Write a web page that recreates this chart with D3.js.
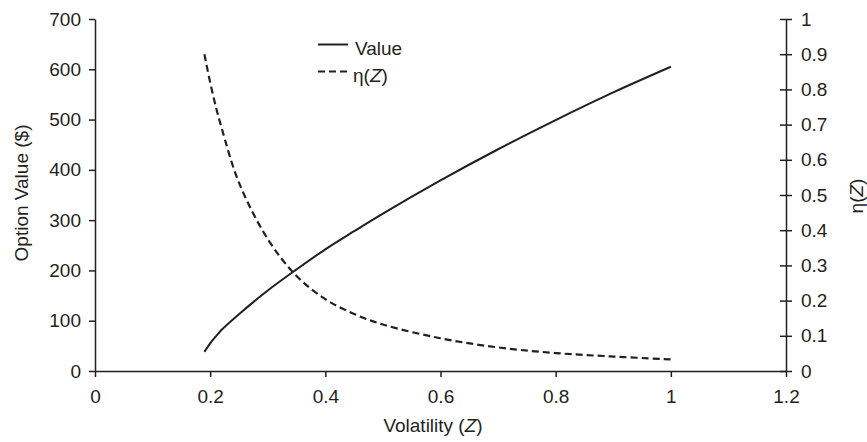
<!DOCTYPE html>
<html>
<head>
<meta charset="utf-8">
<script src="https://cdn.jsdelivr.net/npm/d3@7"></script>
<style>
  body { margin: 0; background: #fff; }
  svg { display: block; font-family: "Liberation Sans", Arial, sans-serif; }
  .axis text { font-size: 19px; fill: #231f20; }
  .axis path, .axis line { stroke: #231f20; stroke-width: 1.5; }
</style>
</head>
<body>
<div id="chart"></div>
<script>
// values
const volatility = [0.19, 0.2, 0.21, 0.22, 0.25, 0.3, 0.35, 0.4, 0.45, 0.5, 0.6, 0.7, 0.8, 0.9, 1.0];
const optionValue = [38, 55, 69, 82, 113, 160, 202, 242, 278, 313, 379, 441, 499, 554, 605];
const etaValue = [0.90, 0.82, 0.75, 0.69, 0.535, 0.375, 0.27, 0.204, 0.162, 0.132, 0.093, 0.067, 0.051, 0.041, 0.033];

const xTicks = [0, 0.2, 0.4, 0.6, 0.8, 1, 1.2];
const leftTicks = [0, 100, 200, 300, 400, 500, 600, 700];
const rightTicks = [0, 0.1, 0.2, 0.3, 0.4, 0.5, 0.6, 0.7, 0.8, 0.9, 1];

const ink = "#231f20";
const W = 867, H = 442;
const margin = { top: 19, right: 81, bottom: 71, left: 95 };
const width = W - margin.left - margin.right;
const height = H - margin.top - margin.bottom;

const svg = d3.select("#chart").append("svg")
    .attr("width", W)
    .attr("height", H);

const g = svg.append("g")
    .attr("transform", `translate(${margin.left},${margin.top})`);

const x = d3.scaleLinear().domain([0, 1.2]).range([0, width]);
const yL = d3.scaleLinear().domain([0, 700]).range([height, 0]);
const yR = d3.scaleLinear().domain([0, 1]).range([height, 0]);

// axes
g.append("g")
    .attr("class", "axis")
    .attr("transform", `translate(0,${height})`)
    .call(d3.axisBottom(x).tickValues(xTicks).tickFormat(d3.format("~g"))
        .tickSizeInner(6).tickSizeOuter(0).tickPadding(13));

g.append("g")
    .attr("class", "axis")
    .call(d3.axisLeft(yL).tickValues(leftTicks).tickFormat(d3.format("d"))
        .tickSizeInner(6).tickSizeOuter(0).tickPadding(8));

const right = g.append("g")
    .attr("class", "axis")
    .attr("transform", `translate(${width},0)`)
    .call(d3.axisRight(yR).tickValues(rightTicks).tickFormat(d3.format("~g"))
        .tickSizeInner(6).tickSizeOuter(0).tickPadding(9));
// right ticks cross the axis line
right.selectAll(".tick line").attr("x1", -6);

// lines
const pts = volatility.map((v, i) => ({ z: v, val: optionValue[i], eta: etaValue[i] }));

const valueLine = d3.line()
    .x(d => x(d.z))
    .y(d => yL(d.val))
    .curve(d3.curveCatmullRom.alpha(0.5));

const etaLine = d3.line()
    .x(d => x(d.z))
    .y(d => yR(d.eta))
    .curve(d3.curveCatmullRom.alpha(0.5));

g.append("path")
    .datum(pts)
    .attr("d", valueLine)
    .attr("fill", "none")
    .attr("stroke", ink)
    .attr("stroke-width", 2);

g.append("path")
    .datum(pts)
    .attr("d", etaLine)
    .attr("fill", "none")
    .attr("stroke", ink)
    .attr("stroke-width", 2.2)
    .attr("stroke-dasharray", "7,4");

// legend
const legend = svg.append("g").attr("transform", "translate(318,44.5)");
legend.append("line")
    .attr("x1", 0).attr("x2", 30).attr("y1", 0).attr("y2", 0)
    .attr("stroke", ink).attr("stroke-width", 2);
legend.append("text")
    .attr("x", 37).attr("y", 10)
    .attr("font-size", 19).attr("fill", ink)
    .text("Value");
legend.append("line")
    .attr("x1", 0).attr("x2", 30).attr("y1", 27).attr("y2", 27)
    .attr("stroke", ink).attr("stroke-width", 2.2)
    .attr("stroke-dasharray", "7,4");
const etaLabel = legend.append("text")
    .attr("x", 35).attr("y", 37)
    .attr("font-size", 19).attr("fill", ink);
etaLabel.append("tspan").text("η(");
etaLabel.append("tspan").attr("font-style", "italic").text("Z");
etaLabel.append("tspan").text(")");

// axis titles
const xTitle = svg.append("text")
    .attr("x", 433).attr("y", 432)
    .attr("text-anchor", "middle")
    .attr("font-size", 19).attr("fill", ink);
xTitle.append("tspan").text("Volatility (");
xTitle.append("tspan").attr("font-style", "italic").text("Z");
xTitle.append("tspan").text(")");

svg.append("text")
    .attr("transform", "translate(28,193) rotate(-90)")
    .attr("text-anchor", "middle")
    .attr("font-size", 19).attr("fill", ink)
    .text("Option Value ($)");

const rTitle = svg.append("text")
    .attr("transform", "translate(863,196) rotate(-90)")
    .attr("text-anchor", "middle")
    .attr("font-size", 19).attr("fill", ink);
rTitle.append("tspan").text("η(");
rTitle.append("tspan").attr("font-style", "italic").text("Z");
rTitle.append("tspan").text(")");
</script>
</body>
</html>
